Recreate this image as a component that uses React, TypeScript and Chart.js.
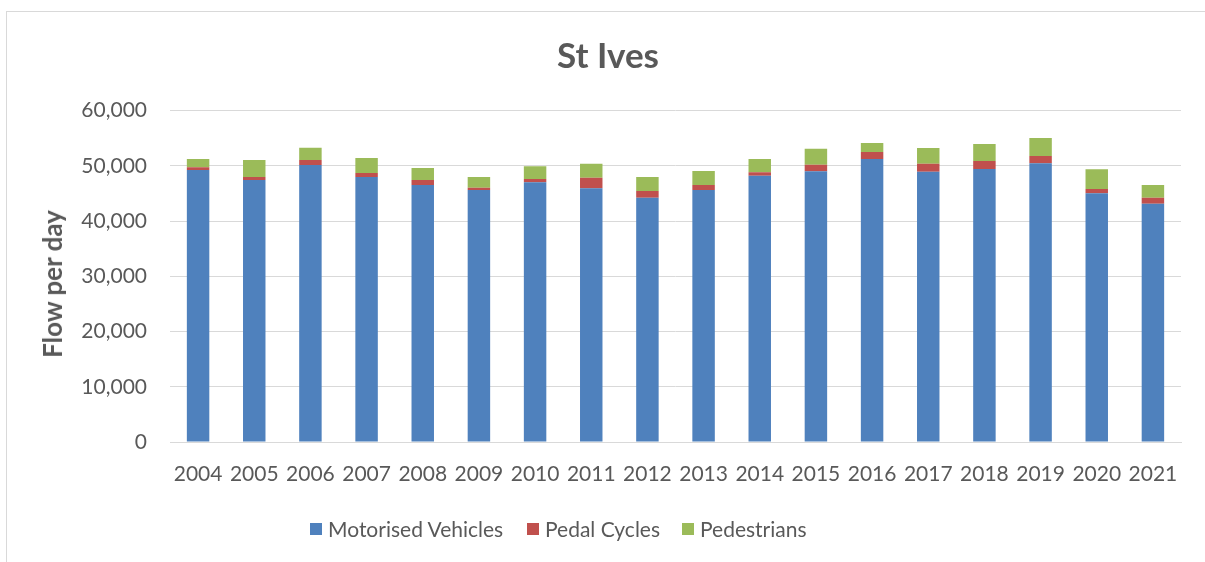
import React, { useEffect, useRef } from "react";
import { Chart, registerables } from "chart.js";

Chart.register(...registerables);

const years = ["2004", "2005", "2006", "2007", "2008", "2009", "2010", "2011", "2012", "2013", "2014", "2015", "2016", "2017", "2018", "2019", "2020", "2021"];
const motorisedVehicles = [49230, 47420, 50140, 47970, 46520, 45610, 47000, 45920, 44220, 45610, 48200, 49000, 51220, 48920, 49410, 50450, 45020, 43130];
const pedalCycles = [490, 540, 900, 720, 900, 420, 600, 1920, 1210, 900, 620, 1190, 1270, 1450, 1450, 1320, 780, 1090];
const pedestrians = [1500, 3080, 2230, 2720, 2170, 1940, 2300, 2530, 2530, 2530, 2400, 2900, 1630, 2840, 3080, 3260, 3570, 2300];
const yTicks = [0, 10000, 20000, 30000, 40000, 50000, 60000];
const seriesNames = ["Motorised Vehicles", "Pedal Cycles", "Pedestrians"];
const seriesColors = ["#4f81bd", "#c0504d", "#9bbb59"];

const TEXT = "#595959";
const GRID = "#d9d9d9";
const FONT = "Lato";

const legendBoxX = [310, 527, 682];

export default function App() {
  const ref = useRef<HTMLCanvasElement | null>(null);

  useEffect(() => {
    if (!ref.current) return;
    const chart = new Chart(ref.current, {
      type: "bar",
      data: {
        labels: years,
        datasets: [
          { label: seriesNames[0], data: motorisedVehicles, backgroundColor: seriesColors[0] },
          { label: seriesNames[1], data: pedalCycles, backgroundColor: seriesColors[1] },
          { label: seriesNames[2], data: pedestrians, backgroundColor: seriesColors[2] },
        ],
      },
      options: {
        responsive: false,
        animation: false,
        layout: { padding: { top: 0, left: 35, right: 24, bottom: 73 } },
        datasets: { bar: { barPercentage: 0.4, categoryPercentage: 1 } },
        plugins: {
          title: {
            display: true,
            text: "St Ives",
            color: TEXT,
            font: { family: FONT, size: 35, weight: "bold" },
            padding: { top: 36, bottom: 32.5 },
          },
          legend: { display: false },
          tooltip: { enabled: false },
        },
        scales: {
          x: {
            stacked: true,
            grid: { display: false, drawTicks: false },
            border: { display: true, color: GRID, width: 1 },
            ticks: { color: TEXT, font: { family: FONT, size: 21 }, padding: 20, maxRotation: 0, autoSkip: false },
            afterFit: (s: any) => { s.height = 47; },
          },
          y: {
            stacked: true,
            min: 0,
            max: 60000,
            afterBuildTicks: (s: any) => { s.ticks = yTicks.map((v) => ({ value: v })); },
            grid: { color: GRID, drawTicks: false },
            border: { display: false },
            ticks: {
              color: TEXT,
              font: { family: FONT, size: 21 },
              padding: 23,
              callback: (v: any) => Number(v).toLocaleString("en-GB"),
            },
            afterFit: (s: any) => { s.width = 135; },
          },
        },
      },
    });
    return () => chart.destroy();
  }, []);

  return (
    <div style={{ position: "fixed", left: 0, top: 0, width: 1205, height: 562, overflow: "hidden", background: "#fff", fontFamily: FONT, color: TEXT }}>
      <div style={{ position: "absolute", left: 6, top: 11, width: 1400, height: 800, border: "1px solid #d9d9d9" }} />
      <canvas ref={ref} width={1205} height={562} style={{ position: "absolute", left: 0, top: 0 }} />
      <div
        style={{
          position: "absolute",
          left: 51.5,
          top: 284,
          transform: "translate(-50%, -50%) rotate(-90deg)",
          fontSize: 26,
          fontWeight: "bold",
          lineHeight: "26px",
          whiteSpace: "nowrap",
        }}
      >
        Flow per day
      </div>
      {seriesNames.map((name, i) => (
        <div key={name} style={{ position: "absolute", left: legendBoxX[i], top: 517, height: 24, display: "flex", alignItems: "center", whiteSpace: "nowrap" }}>
          <span style={{ display: "inline-block", width: 12, height: 12, background: seriesColors[i], marginRight: 6 }} />
          <span style={{ fontSize: 21, lineHeight: "24px" }}>{name}</span>
        </div>
      ))}
    </div>
  );
}
